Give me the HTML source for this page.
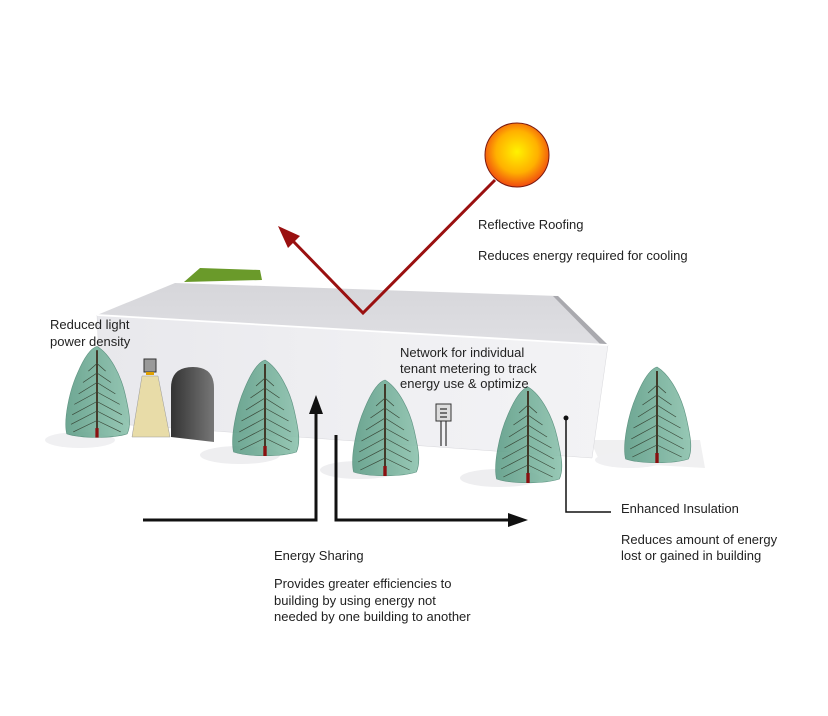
<!DOCTYPE html>
<html><head><meta charset="utf-8"><style>
html,body{margin:0;padding:0;background:#fff;width:828px;height:716px;overflow:hidden}
svg{display:block}
text{font-family:"Liberation Sans",sans-serif;font-size:13px;fill:#222}
</style></head><body>
<svg width="828" height="716" viewBox="0 0 828 716">
<defs>
<radialGradient id="sun" cx="50%" cy="45%" r="55%">
<stop offset="0" stop-color="#fff200"/><stop offset="0.6" stop-color="#ffb000"/><stop offset="1" stop-color="#f04a10"/></radialGradient>
<linearGradient id="wall" x1="0" y1="0" x2="1" y2="0">
<stop offset="0" stop-color="#e8e8ec"/><stop offset="0.5" stop-color="#efeff2"/><stop offset="1" stop-color="#f3f3f5"/></linearGradient>
<linearGradient id="roof" x1="0" y1="0" x2="0" y2="1">
<stop offset="0" stop-color="#d6d6da"/><stop offset="1" stop-color="#dfdfe3"/></linearGradient>
<linearGradient id="door" x1="0" y1="0" x2="1" y2="0">
<stop offset="0" stop-color="#333"/><stop offset="1" stop-color="#777"/></linearGradient>
<linearGradient id="treeg" x1="0" y1="0" x2="1" y2="0">
<stop offset="0" stop-color="#5f9e88"/><stop offset="1" stop-color="#8cc2ad"/></linearGradient>
<g id="tree">
<path d="M0,-88 C12,-80 22,-58 26,-38 C30,-18 32,-6 28,4 C15,9 -15,9 -28,4 C-31,-10 -26,-40 -18,-60 C-12,-76 -6,-86 0,-88Z" fill="url(#treeg)" opacity="0.9" stroke="#4f8a76" stroke-width="0.6"/>
<path d="M0,-84 L0,2" stroke="#3a2a1a" stroke-width="1.6"/>
<path d="M0,-70 L-8,-62 M0,-70 L8,-62 M0,-60 L-13,-50 M0,-60 L13,-50 M0,-50 L-17,-38 M0,-50 L17,-38 M0,-40 L-21,-27 M0,-40 L21,-27 M0,-30 L-23,-16 M0,-30 L23,-16 M0,-20 L-24,-6 M0,-20 L24,-6 M0,-10 L-22,2 M0,-10 L22,2" stroke="#3a4a3a" stroke-width="0.7" fill="none"/>
<rect x="-1.5" y="-2" width="3" height="10" fill="#8a1010"/>
</g>
</defs>
<!-- shadows -->
<path d="M590,440 L700,440 L705,468 L600,462Z" fill="#f0f0f1"/>
<ellipse cx="80" cy="440" rx="35" ry="8" fill="#f0f0f2"/>
<ellipse cx="240" cy="455" rx="40" ry="9" fill="#eeeef0"/>
<ellipse cx="360" cy="470" rx="40" ry="9" fill="#eeeef0"/>
<ellipse cx="500" cy="478" rx="40" ry="9" fill="#eeeef0"/>
<ellipse cx="630" cy="460" rx="35" ry="8" fill="#f0f0f2"/>
<!-- roof -->
<polygon points="97,315 175,283 558,296 608,345" fill="url(#roof)"/>
<polygon points="558,296 608,345 601,345 553,296" fill="#a9a9ae"/>
<polygon points="184,282 262,280 260,270 200,268" fill="#6a9a2a"/>
<!-- front wall -->
<polygon points="97,315 608,345 592,458 130,425 100,385" fill="url(#wall)" stroke="#d8d8dc" stroke-width="0.5"/>
<line x1="97" y1="315" x2="608" y2="345" stroke="#fff" stroke-width="1.8"/>
<!-- light -->
<rect x="144" y="359" width="12" height="13" fill="#999" stroke="#333"/>
<rect x="146" y="372" width="8" height="3" fill="#e0a000"/>
<polygon points="142,376 158,376 170,437 132,437" fill="#e8dca8" stroke="#999" stroke-width="0.5"/>
<!-- door -->
<path d="M171,437 L171,388 Q171,367 193,367 Q214,367 214,388 L214,442Z" fill="url(#door)"/>
<!-- meter -->
<rect x="436" y="404" width="15" height="17" fill="#ddd" stroke="#333"/>
<path d="M440,409 H447 M440,413 H447 M440,417 H447 M441,421 V446 M446,421 V446" stroke="#333" stroke-width="1.2"/>
<!-- trees -->
<use href="#tree" transform="translate(97,430) scale(1.08,0.95)"/>
<use href="#tree" transform="translate(265,448) scale(1.12,1)"/>
<use href="#tree" transform="translate(385,468) scale(1.12,1)"/>
<use href="#tree" transform="translate(528,475) scale(1.12,1)"/>
<use href="#tree" transform="translate(657,455) scale(1.12,1)"/>
<!-- sun & ray -->
<circle cx="517" cy="155" r="32" fill="url(#sun)" stroke="#7a1a10" stroke-width="1"/>
<polyline points="495,180 363,313 292,240" fill="none" stroke="#9a1010" stroke-width="3"/>
<polygon points="278,226 300,236 288,248" fill="#9a1010"/>
<!-- energy sharing arrows -->
<polyline points="143,520 316,520 316,412" fill="none" stroke="#111" stroke-width="3"/>
<polygon points="309,414 316,395 323,414" fill="#111"/>
<polyline points="336,435 336,520 510,520" fill="none" stroke="#111" stroke-width="3"/>
<polygon points="508,513 528,520 508,527" fill="#111"/>
<!-- insulation -->
<circle cx="566" cy="418" r="2.5" fill="#111"/>
<polyline points="566,418 566,512 611,512" fill="none" stroke="#111" stroke-width="1.5"/>
<!-- labels -->
<text x="478" y="229">Reflective Roofing</text>
<text x="478" y="260">Reduces energy required for cooling</text>
<text x="50" y="329">Reduced light</text>
<text x="50" y="346">power density</text>
<text x="400" y="357">Network for individual</text>
<text x="400" y="373">tenant metering to track</text>
<text x="400" y="388">energy use &amp; optimize</text>
<text x="621" y="513">Enhanced Insulation</text>
<text x="621" y="544">Reduces amount of energy</text>
<text x="621" y="560">lost or gained in building</text>
<text x="274" y="560">Energy Sharing</text>
<text x="274" y="588">Provides greater efficiencies to</text>
<text x="274" y="605">building by using energy not</text>
<text x="274" y="621">needed by one building to another</text>
</svg>
</body></html>
